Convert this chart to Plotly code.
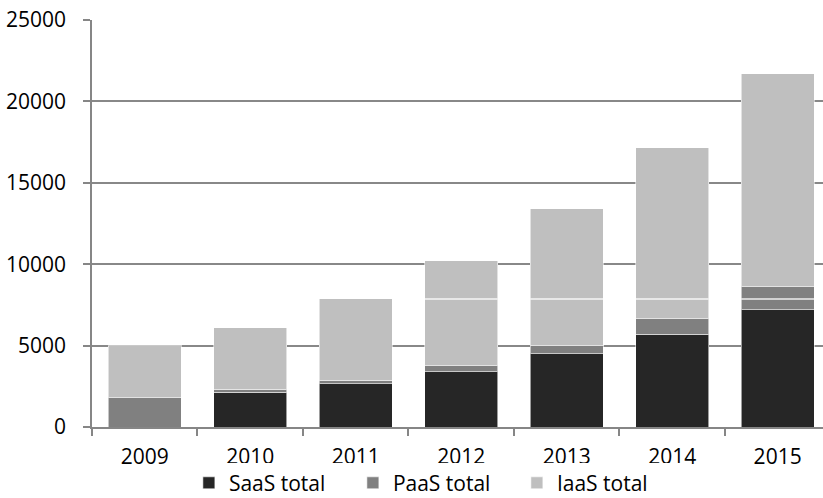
import plotly.graph_objects as go

years = ["2009", "2010", "2011", "2012", "2013", "2014", "2015"]
saas = [0, 2150, 2650, 3400, 4500, 5700, 7200]
paas = [1800, 170, 230, 350, 500, 950, 1400]
iaas = [3200, 3780, 4990, 6450, 8400, 10500, 13100]

series = [
    ("SaaS total", saas, "#262626"),
    ("PaaS total", paas, "#808080"),
    ("IaaS total", iaas, "#bfbfbf"),
]

# thin white stripe visible across the later bars in the original
stripe_level = 7870
stripe_years = ["2012", "2013", "2014", "2015"]

bargap = 0.31
font = dict(family="Open Sans", size=21, color="#000000")

fig = go.Figure()
for name, vals, col in series:
    fig.add_trace(go.Bar(
        x=years, y=vals, name=name,
        marker=dict(color=col, line=dict(color="rgba(255,255,255,0.55)", width=1)),
    ))

half = (1 - bargap) / 2
for yr in stripe_years:
    i = years.index(yr)
    fig.add_shape(type="line", xref="x", yref="y",
                  x0=i - half, x1=i + half, y0=stripe_level, y1=stripe_level,
                  line=dict(color="rgba(255,255,255,0.85)", width=1.5), layer="above")

fig.update_layout(
    barmode="stack",
    bargap=bargap,
    width=823, height=498,
    margin=dict(l=92, r=0, t=20, b=71, autoexpand=False),
    paper_bgcolor="white", plot_bgcolor="white",
    font=font,
    showlegend=True,
    legend=dict(orientation="h", xref="container", yref="paper",
                x=0.2295, y=-0.138, xanchor="left", yanchor="middle",
                entrywidth=119, entrywidthmode="pixels",
                font=font, traceorder="normal", itemclick=False),
)
fig.update_xaxes(
    type="category", range=[-0.5, 6.43], automargin=False,
    showline=True, linecolor="#868686", linewidth=1.5,
    ticks="outside", ticklen=7, tickcolor="#868686", tickwidth=1.5,
    tickson="boundaries", showgrid=False, zeroline=False,
    tickfont=font, ticklabelstandoff=10,
)
fig.update_yaxes(
    range=[0, 25000], dtick=5000, tick0=0, tickformat="d", automargin=False,
    showline=True, linecolor="#868686", linewidth=1.5,
    ticks="outside", ticklen=7, tickcolor="#868686", tickwidth=1.5,
    showgrid=True, gridcolor="#888888", gridwidth=1.5,
    zeroline=False, tickfont=font, ticklabelstandoff=13,
)

fig.write_html("out.html")
